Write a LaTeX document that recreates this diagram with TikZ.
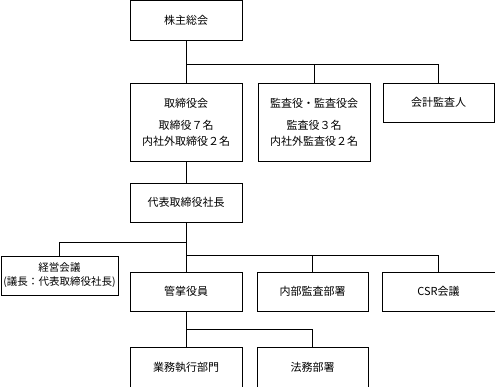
\documentclass[tikz,border=0pt]{standalone}
\usepackage{fontspec}
\newfontfamily\jpfont{Noto Sans CJK JP}
\usetikzlibrary{positioning}

\begin{document}
\begin{tikzpicture}[
    x=1pt, y=-1pt,
    box/.style={draw, line width=0.8pt, rectangle, inner sep=0pt, align=center, font=\jpfont\fontsize{11}{16}\selectfont, minimum width=112pt, minimum height=39pt},
    conn/.style={line width=0.8pt}
]
\useasboundingbox (0,0) rectangle (495,387);

\node[box, minimum height=40pt] (soukai) at (186,20) {株主総会};
\node[box, minimum height=78pt] (torishimari) at (186,122) {取締役会\\[6pt]取締役７名\\内社外取締役２名};
\node[box, minimum height=78pt] (kansa) at (314,122) {監査役・監査役会\\[6pt]監査役３名\\内社外監査役２名};
\node[box, minimum width=111pt] (kaikei) at (438.5,102.5) {会計監査人};
\node[box] (shacho) at (186,202.5) {代表取締役社長};
\node[box, minimum width=117pt, font=\jpfont\fontsize{10.5}{14}\selectfont] (keiei) at (59.5,275.5) {経営会議\\(議長：代表取締役社長)};
\node[box] (kansho) at (186,291.5) {管掌役員};
\node[box, minimum width=111pt] (naibu) at (312.5,291.5) {内部監査部署};
\node[box, minimum width=113pt] (csr) at (438.5,291.5) {CSR会議};
\node[box, minimum height=40pt] (gyomu) at (186,367) {業務執行部門};
\node[box, minimum width=111pt, minimum height=40pt] (homu) at (312.5,367) {法務部署};

% junctions
\coordinate (j1) at (186,64);
\coordinate (j2) at (186,242);
\coordinate (j3) at (186,255);
\coordinate (j4) at (186,329);

\draw[conn] (soukai.south) -- (torishimari.north);
\draw[conn] (j1) -| (kansa.north);
\draw[conn] (j1) -| (kaikei.north);
\draw[conn] (torishimari.south) -- (shacho.north);
\draw[conn] (shacho.south) -- (kansho.north);
\draw[conn] (j2) -| (keiei.north);
\draw[conn] (j3) -| (naibu.north);
\draw[conn] (j3) -| (csr.north);
\draw[conn] (kansho.south) -- (gyomu.north);
\draw[conn] (j4) -| (homu.north);
\end{tikzpicture}
\end{document}
